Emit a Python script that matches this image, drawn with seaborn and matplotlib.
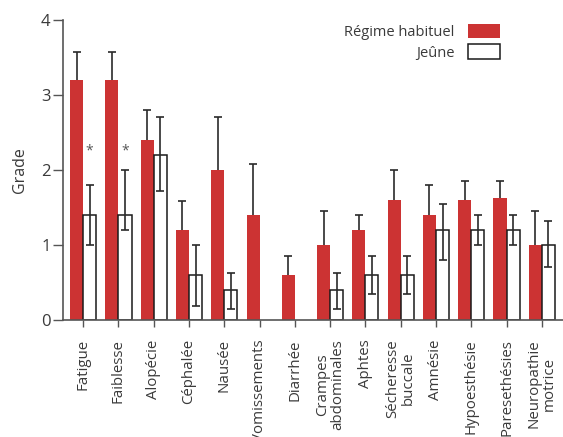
import matplotlib
matplotlib.use("Agg")
import matplotlib.pyplot as plt
import numpy as np
import pandas as pd
import seaborn as sns
from matplotlib.patches import Patch

categories = ["Fatigue", "Faiblesse", "Alopécie", "Céphalée", "Nausée",
              "Vomissements", "Diarrhée", "Crampes\nabdominales", "Aphtes",
              "Sécheresse\nbuccale", "Amnésie", "Hypoesthésie",
              "Paresethésies", "Neuropathie\nmotrice"]

regime_mean = [3.2, 3.2, 2.4, 1.2, 2.0, 1.4, 0.6, 1.0, 1.2, 1.6, 1.4, 1.6, 1.63, 1.0]
regime_err_up = [0.37, 0.37, 0.4, 0.38, 0.7, 0.68, 0.25, 0.45, 0.2, 0.4, 0.4, 0.25, 0.22, 0.45]

jeune_mean = [1.4, 1.4, 2.2, 0.6, 0.4, 0.0, 0.0, 0.4, 0.6, 0.6, 1.2, 1.2, 1.2, 1.0]
jeune_err_low = [0.4, 0.2, 0.48, 0.42, 0.25, 0.0, 0.0, 0.25, 0.25, 0.25, 0.4, 0.2, 0.2, 0.3]
jeune_err_up = [0.4, 0.6, 0.5, 0.4, 0.23, 0.0, 0.0, 0.23, 0.25, 0.25, 0.35, 0.2, 0.2, 0.32]

significant = ["Fatigue", "Faiblesse"]

series_names = ["Régime habituel", "Jeûne"]
RED = "#CC3333"
INK = "#3a3a3a"

sns.set_style("ticks")
plt.rcParams["font.family"] = ["Open Sans", "DejaVu Sans"]

df = pd.DataFrame({
    "symptome": categories * 2,
    "groupe": [series_names[0]] * len(categories) + [series_names[1]] * len(categories),
    "grade": regime_mean + jeune_mean,
})

fig = plt.figure(figsize=(5.63, 4.37), dpi=100)
ax = fig.add_axes([0.112, 0.268, 0.888, 0.687])

sns.barplot(data=df, x="symptome", y="grade", hue="groupe",
            hue_order=series_names, order=categories,
            palette={series_names[0]: RED, series_names[1]: "white"},
            width=0.74, errorbar=None, legend=False, ax=ax, saturation=1)

n = len(categories)
bars = ax.patches
red_bars = bars[:n]
white_bars = bars[n:2 * n]
for p in red_bars:
    p.set_edgecolor("none")
for p in white_bars:
    p.set_edgecolor("#1a1a1a")
    p.set_linewidth(1.1)
    if p.get_height() == 0:
        p.set_visible(False)

red_x = [p.get_x() + p.get_width() / 2 for p in red_bars]
white_x = [p.get_x() + p.get_width() / 2 for p in white_bars]

eb_kw = dict(fmt="none", ecolor="#2a2a2a", elinewidth=1.2, capsize=2.6, capthick=1.2, zorder=3)
# one-sided (upper) error bars on the red series: hide the lower cap
eb_red = ax.errorbar(red_x, regime_mean, yerr=[np.zeros(n), regime_err_up], **eb_kw)
eb_red[1][0].set_visible(False)
jm = np.array(jeune_mean)
mask = jm > 0
ax.errorbar(np.array(white_x)[mask], jm[mask],
            yerr=[np.array(jeune_err_low)[mask], np.array(jeune_err_up)[mask]], **eb_kw)

for name in significant:
    i = categories.index(name)
    ax.text(white_x[i], 2.25, "*", ha="center", va="center", fontsize=10, color="#555555")

ax.set_ylim(0, 4)
ax.set_xlim(-0.57, n - 0.4)
ax.set_yticks([0, 1, 2, 3, 4])
ax.set_ylabel("Grade", fontsize=11.5, color=INK, labelpad=9)
ax.set_xlabel("")
ax.tick_params(axis="x", rotation=90, labelsize=10.8, labelcolor=INK, length=5,
               width=1, color="#555555", pad=9)
ax.tick_params(axis="y", labelsize=12, labelcolor=INK, length=7, width=1,
               color="#555555", pad=2)
for lbl in ax.get_xticklabels():
    lbl.set_linespacing(1.0)
for side in ("top", "right"):
    ax.spines[side].set_visible(False)
for side in ("left", "bottom"):
    ax.spines[side].set_color("#555555")
    ax.spines[side].set_linewidth(1.2)

handles = [Patch(facecolor=RED, edgecolor="none", label=series_names[0]),
           Patch(facecolor="white", edgecolor="#1a1a1a", linewidth=1.1, label=series_names[1])]
leg = ax.legend(handles=handles, loc="upper right", bbox_to_anchor=(0.9, 1.03),
                frameon=False, markerfirst=False, fontsize=10.5, handlelength=2.2,
                handleheight=1.15, labelspacing=0.3, handletextpad=0.9)
for t in leg.get_texts():
    t.set_color(INK)

fig.savefig("out.png", dpi=100)
